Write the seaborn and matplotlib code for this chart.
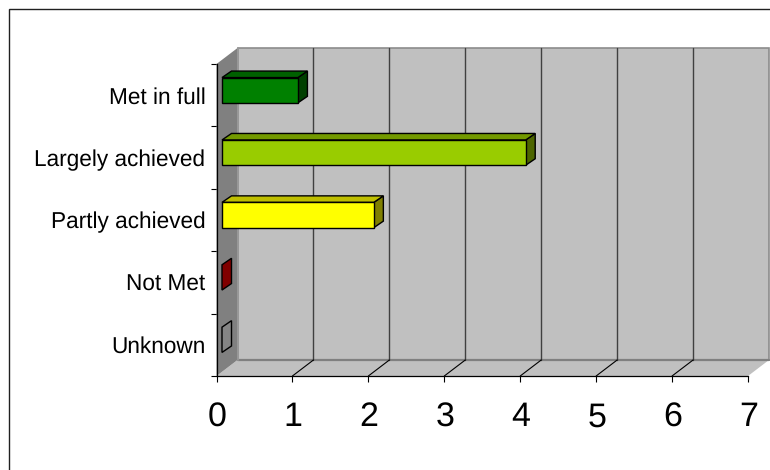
"""Horizontal bar chart with the fake 3D look of an old spreadsheet chart."""
import matplotlib

matplotlib.use("Agg")
import matplotlib.pyplot as plt
from matplotlib.patches import Polygon, Rectangle
from matplotlib.transforms import Affine2D
import pandas as pd
import seaborn as sns

categories = ["Met in full", "Largely achieved", "Partly achieved", "Not Met", "Unknown"]
values = [1, 4, 2, 0, 0]
x_ticks = [0, 1, 2, 3, 4, 5, 6, 7]
front_colors = ["#008000", "#99CC00", "#FFFF00", "#800000", "#C0C0C0"]
top_colors = ["#006000", "#739900", "#BFBF00", "#600000", "#909090"]
side_colors = ["#004000", "#4D6600", "#808000", "#800000", "#858585"]

W, H = 770, 470
AX_LEFT, AX_RIGHT, AX_TOP, AX_BOTTOM = 216.5, 748, 64, 376
WALL_DX, WALL_DY = 21, 16
BAR_DX, BAR_DY = 5.5, 5
DEPTH_DX, DEPTH_DY = 9.5, 6.5
BAR_WIDTH = 0.405


def shifted(ax, dx, dy):
    """Data transform moved by a pixel offset, y up."""
    return ax.transData + Affine2D().translate(dx, dy)


def draw_walls(ax):
    x_max = x_ticks[-1]
    n = len(categories)
    top, bottom = -0.5, n - 0.5
    back = shifted(ax, WALL_DX, WALL_DY)
    # back wall
    ax.add_patch(Rectangle((0, top), x_max, n, transform=back, fc="#C0C0C0",
                           ec="#8C8C8C", lw=1.2, zorder=1, clip_on=False))
    # floor and left wall are drawn in display pixels from the data corners
    corners = [(0, bottom), (x_max, bottom)]
    front_pts = ax.transData.transform(corners)
    back_pts = back.transform(corners)
    ax.add_patch(Polygon([front_pts[0], front_pts[1], back_pts[1], back_pts[0]],
                         transform=None, fc="#C0C0C0", ec="none", zorder=1.2, clip_on=False))
    ax.plot([0, x_max], [bottom, bottom], transform=back, color="#808080", lw=1.6,
            zorder=1.4, clip_on=False)
    corners = [(0, top), (0, bottom)]
    front_pts = ax.transData.transform(corners)
    back_pts = back.transform(corners)
    ax.add_patch(Polygon([front_pts[0], front_pts[1], back_pts[1], back_pts[0]],
                         transform=None, fc="#808080", ec="none", zorder=1.2, clip_on=False))
    ax.plot([0, 0], [top, bottom], transform=back, color="#9A9A9A", lw=1.2, zorder=1.5,
            clip_on=False)
    for t in x_ticks[1:-1]:
        ax.plot([t, t], [top, bottom], transform=back, color="#404040", lw=1.0, zorder=2,
                clip_on=False)
        a = ax.transData.transform((t, bottom))
        b = back.transform((t, bottom))
        ax.plot([a[0], b[0]], [a[1], b[1]], transform=None, color="black", lw=0.8, zorder=2,
                clip_on=False)


def add_depth(ax, bar, i):
    """Top and side faces of one bar, from the bar drawn by seaborn."""
    to_px = shifted(ax, BAR_DX, BAR_DY)
    x0, y0 = to_px.transform((bar.get_x(), bar.get_y()))
    x1, y1 = to_px.transform((bar.get_x() + bar.get_width(), bar.get_y() + bar.get_height()))
    y_lo, y_hi = min(y0, y1), max(y0, y1)
    edge = {"ec": "black", "lw": 1.0, "transform": None, "joinstyle": "miter", "clip_on": False}
    ax.add_patch(Polygon([(x1, y_lo), (x1 + DEPTH_DX, y_lo + DEPTH_DY),
                          (x1 + DEPTH_DX, y_hi + DEPTH_DY), (x1, y_hi)],
                         fc=side_colors[i], zorder=4, **edge))
    if bar.get_width() > 0:
        ax.add_patch(Polygon([(x0, y_hi), (x1, y_hi), (x1 + DEPTH_DX, y_hi + DEPTH_DY),
                              (x0 + DEPTH_DX, y_hi + DEPTH_DY)],
                             fc=top_colors[i], zorder=4, **edge))


df = pd.DataFrame({"category": categories, "value": values})

sns.set_theme(style="white")
plt.rcParams["font.family"] = ["Liberation Sans", "DejaVu Sans"]
plt.rcParams["text.hinting"] = "none"

fig = plt.figure(figsize=(W / 100, H / 100), dpi=100, facecolor="white")
ax = fig.add_axes([AX_LEFT / W, 1 - AX_BOTTOM / H, (AX_RIGHT - AX_LEFT) / W,
                   (AX_BOTTOM - AX_TOP) / H])
ax.patch.set_alpha(0)

# outer chart frame runs off the right and bottom of the picture
fig.add_artist(Rectangle((8.5 / W, -0.1), 1.1, 1.1 - 9.5 / H, transform=fig.transFigure,
                         fc="none", ec="#202020", lw=1.0))

sns.barplot(data=df, x="value", y="category", hue="category", palette=front_colors,
            saturation=1, legend=False, width=BAR_WIDTH, edgecolor="black", linewidth=1.0,
            ax=ax, zorder=5, dodge=False)

ax.set_xlim(0, x_ticks[-1])
ax.set_ylim(len(categories) - 0.5, -0.5)
fig.canvas.draw()

bars = list(ax.patches[:len(categories)])
draw_walls(ax)
for i, bar in enumerate(bars):
    bar.set_transform(shifted(ax, BAR_DX, BAR_DY))
    bar.set_clip_on(False)
    add_depth(ax, bar, i)
# zero bars only show their side face
for bar, v in zip(bars, values):
    bar.set_visible(v > 0)

ax.set_xlabel("")
ax.set_ylabel("")
ax.set_xticks(x_ticks)
ax.set_yticks([i - 0.5 for i in range(len(categories) + 1)], minor=True)
ax.tick_params(axis="x", which="major", bottom=True, length=4.5, width=0.8, color="black",
               labelsize=24.5, pad=14, labelcolor="black")
ax.tick_params(axis="y", which="major", left=False, labelsize=16.3, pad=2, labelcolor="black")
ax.tick_params(axis="y", which="minor", left=True, length=4.5, width=0.8, color="black")
for label in ax.get_xticklabels():
    label.set_transform(label.get_transform() + Affine2D().translate(0.5, 0))
for name, spine in ax.spines.items():
    spine.set_visible(name in ("left", "bottom"))
    spine.set_color("black")
    spine.set_linewidth(0.9)
    spine.set_zorder(3)

fig.savefig("out.png", dpi=100)
